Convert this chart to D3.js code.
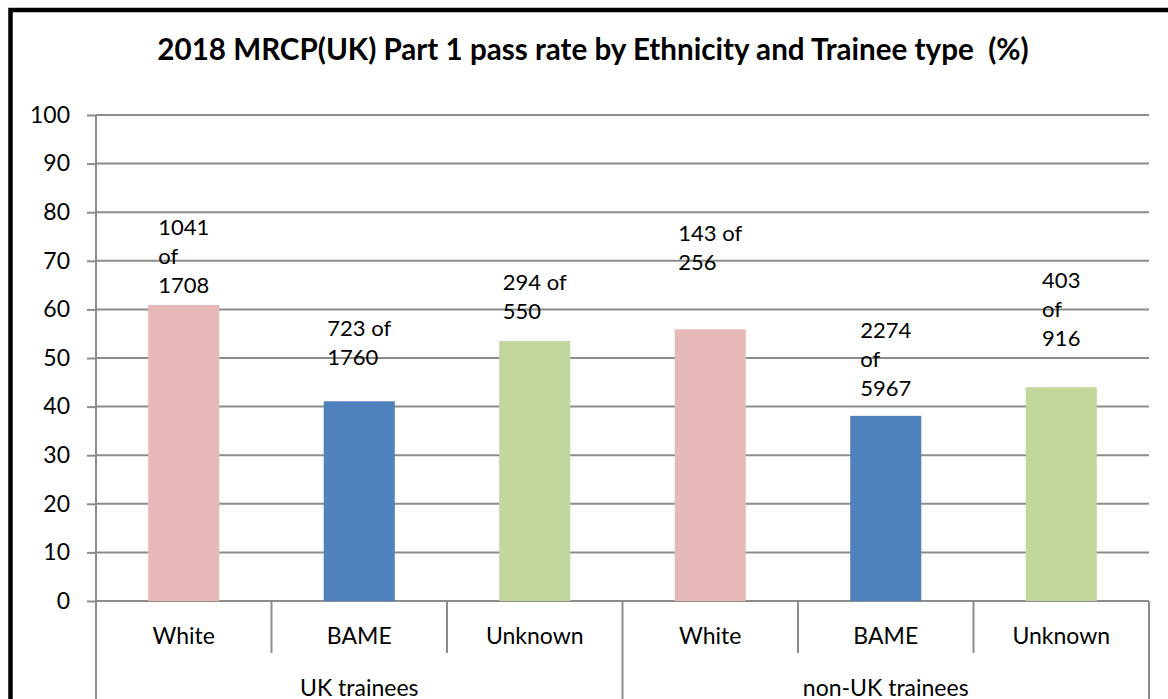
<!DOCTYPE html>
<html>
<head>
<meta charset="utf-8">
<script src="https://cdn.jsdelivr.net/npm/d3@7"></script>
<style>
  body { margin: 0; background: #fff; }
  text { font-family: Lato, "Open Sans", sans-serif; fill: #000; }
</style>
</head>
<body>
<svg id="chart" width="1168" height="699"></svg>
<script>
// chart data
var groups = ["UK trainees", "non-UK trainees"];
var ethnicities = ["White", "BAME", "Unknown"];
var passRates = [60.9, 41.1, 53.5, 55.9, 38.1, 44.0];   // % per bar, in order UK then non-UK
var passLabels = ["1041\nof\n1708", "723 of\n1760", "294 of\n550",
                  "143 of\n256", "2274\nof\n5967", "403\nof\n916"];
var yTicks = [0, 10, 20, 30, 40, 50, 60, 70, 80, 90, 100];

// layout
var labelLift = [20, 44, 30, 67, 28, 49];   // gap between bar top and last label line
var colors = { White: "#e6b9b8", BAME: "#4f81bd", Unknown: "#c3d69b" };
var gridColor = "#8c8c8c";
var fontSize = 23;

var svg = d3.select("#chart"),
    plotLeft = 96, plotRight = 1149, plotTop = 115, plotBottom = 601;

// black frame (cropped on right/bottom)
svg.append("rect")
    .attr("x", 10.5).attr("y", 10)
    .attr("width", 1300).attr("height", 900)
    .attr("fill", "none").attr("stroke", "#000").attr("stroke-width", 4.5);

svg.append("text")
    .attr("x", 593).attr("y", 60)
    .attr("text-anchor", "middle")
    .attr("font-weight", "bold")
    .attr("font-size", 29.6)
    .style("white-space", "pre")
    .text("2018 MRCP(UK) Part 1 pass rate by Ethnicity and Trainee type  (%)");

var bars = [];
groups.forEach(function(g) {
  ethnicities.forEach(function(e) { bars.push({ group: g, eth: e, key: g + "|" + e }); });
});
bars.forEach(function(b, i) { b.value = passRates[i]; b.label = passLabels[i]; b.lift = labelLift[i]; });

var x = d3.scaleBand()
    .domain(bars.map(function(d) { return d.key; }))
    .range([plotLeft, plotRight])
    .paddingInner(0)
    .paddingOuter(0);

var y = d3.scaleLinear().domain([0, 100]).range([plotBottom, plotTop]);

// gridlines
svg.append("g").selectAll("line")
  .data(yTicks.filter(function(t) { return t > 0; }))
  .enter().append("line")
    .attr("x1", plotLeft).attr("x2", plotRight)
    .attr("y1", function(d) { return y(d); }).attr("y2", function(d) { return y(d); })
    .attr("stroke", gridColor).attr("stroke-width", 2);

// y axis
var yAxis = svg.append("g")
    .attr("transform", "translate(" + plotLeft + ",0)")
    .call(d3.axisLeft(y).tickValues(yTicks).tickSize(9).tickPadding(17).tickSizeOuter(0));
yAxis.select(".domain").remove();
yAxis.selectAll(".tick line").attr("stroke", gridColor).attr("stroke-width", 2);
yAxis.selectAll(".tick text").attr("font-size", fontSize).attr("font-family", "Lato").attr("fill", "#000");

svg.append("line")
    .attr("x1", plotLeft).attr("x2", plotLeft).attr("y1", plotTop).attr("y2", 699)
    .attr("stroke", gridColor).attr("stroke-width", 2);
svg.append("line")
    .attr("x1", plotLeft).attr("x2", plotRight).attr("y1", plotBottom).attr("y2", plotBottom)
    .attr("stroke", gridColor).attr("stroke-width", 2);

// bars
var barW = x.bandwidth() * 0.405;
svg.append("g").selectAll("rect")
  .data(bars)
  .enter().append("rect")
    .attr("x", function(d) { return x(d.key) + (x.bandwidth() - barW) / 2; })
    .attr("y", function(d) { return y(d.value); })
    .attr("width", barW)
    .attr("height", function(d) { return plotBottom - y(d.value); })
    .attr("fill", function(d) { return colors[d.eth]; });

// data labels: left-aligned block centred on the bar
var lineH = 29;
var lab = svg.append("g").selectAll("text")
  .data(bars)
  .enter().append("text")
    .attr("font-size", fontSize - 1);
lab.each(function(d) {
  var t = d3.select(this), lines = d.label.split("\n");
  var baseY = y(d.value) - d.lift + 8 - (lines.length - 1) * lineH;
  lines.forEach(function(s, k) {
    t.append("tspan").attr("y", baseY + k * lineH).text(s);
  });
  var w = d3.max(t.selectAll("tspan").nodes(), function(n) { return n.getComputedTextLength(); });
  t.selectAll("tspan").attr("x", x(d.key) + x.bandwidth() / 2 - w / 2);
});

// category axis: ethnicity ticks and labels
var bounds = x.domain().map(function(k) { return x(k); }).concat([plotRight]);
svg.append("g").selectAll("line")
  .data(bounds)
  .enter().append("line")
    .attr("x1", function(d) { return d; }).attr("x2", function(d) { return d; })
    .attr("y1", plotBottom)
    .attr("y2", function(d, i) { return i % 3 === 0 ? 699 : 653; })
    .attr("stroke", gridColor).attr("stroke-width", 2);

svg.append("g").selectAll("text")
  .data(bars)
  .enter().append("text")
    .attr("x", function(d) { return x(d.key) + x.bandwidth() / 2; })
    .attr("y", 644)
    .attr("text-anchor", "middle")
    .attr("font-size", fontSize)
    .text(function(d) { return d.eth; });

svg.append("g").selectAll("text")
  .data(groups)
  .enter().append("text")
    .attr("x", function(g) {
      var ks = bars.filter(function(b) { return b.group === g; });
      return (x(ks[0].key) + x(ks[ks.length - 1].key) + x.bandwidth()) / 2;
    })
    .attr("y", 696)
    .attr("text-anchor", "middle")
    .attr("font-size", fontSize)
    .text(function(g) { return g; });
</script>
</body>
</html>
